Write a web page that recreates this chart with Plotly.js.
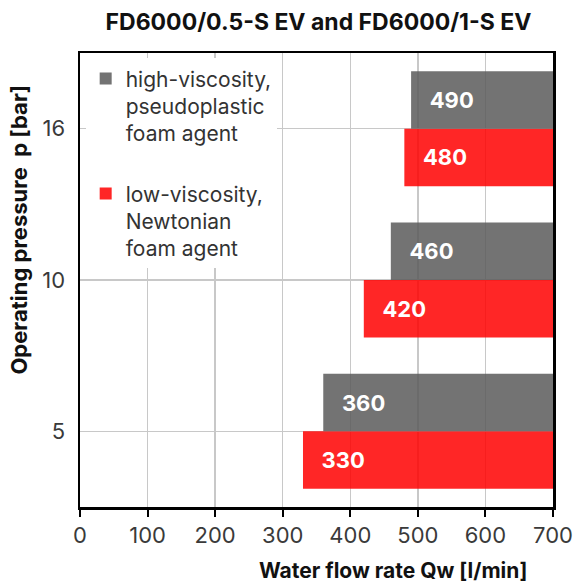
<!DOCTYPE html>
<html>
<head>
<meta charset="utf-8">
<script src="https://cdn.plot.ly/plotly-3.0.1.min.js"></script>
<style>html,body{margin:0;padding:0;background:#fff;}#chart{width:577px;height:585px;}</style>
</head>
<body>
<div id="chart"></div>
<script>
// Data
const pressures = ['5', '10', '16'];
const highViscosity = [360, 460, 490];
const lowViscosity = [330, 420, 480];
const xTicks = [0, 100, 200, 300, 400, 500, 600, 700];
const X_MAX = 700;
const seriesNames = ['high-viscosity,<br>pseudoplastic<br>foam agent', 'low-viscosity,<br>Newtonian<br>foam agent'];

const FONT = 'Inter, "Open Sans", sans-serif';
const pad = '\u00a0\u00a0\u00a0';

function barTrace(vals, name, color, group, rank) {
  return {
    type: 'bar',
    orientation: 'h',
    y: pressures,
    base: vals,
    x: vals.map(v => X_MAX - v),
    text: vals.map(String),
    texttemplate: pad + '%{text}',
    textposition: 'inside',
    insidetextanchor: 'start',
    textfont: {family: FONT, size: 22, color: '#ffffff', weight: 'bold'},
    name: name,
    legendgroup: group,
    legendrank: rank,
    marker: {color: color, line: {width: 0}},
    hoverinfo: 'skip'
  };
}

const data = [
  barTrace(lowViscosity, seriesNames[1], 'rgba(255,0,0,0.85)', 'low', 2),
  barTrace(highViscosity, seriesNames[0], 'rgba(90,90,90,0.85)', 'high', 1)
];

const layout = {
  width: 577, height: 585,
  margin: {l: 80, r: 24, t: 53, b: 78},
  paper_bgcolor: '#ffffff', plot_bgcolor: '#ffffff',
  font: {family: FONT, color: '#333333'},
  title: {text: '<b>FD6000/0.5-S EV and FD6000/1-S EV</b>', font: {family: FONT, size: 23, color: '#111111'},
          x: 0.552, xanchor: 'center', y: 0.962, yanchor: 'middle'},
  barmode: 'group', bargap: 0.24, bargroupgap: 0,
  showlegend: true,
  legend: {x: 0.012, y: 0.988, xanchor: 'left', yanchor: 'top', bgcolor: '#ffffff',
           traceorder: 'grouped', valign: 'top', tracegroupgap: 30,
           font: {family: FONT, size: 21, color: '#333333'}, itemclick: false},
  xaxis: {range: [0, X_MAX], tickvals: xTicks, ticktext: xTicks.map(String),
          showgrid: true, gridcolor: '#c8c8c8', gridwidth: 1.5,
          showline: true, linecolor: '#000000', linewidth: 2.5, mirror: true,
          ticks: 'outside', ticklen: 7, tickwidth: 2, tickcolor: '#000000',
          tickfont: {family: FONT, size: 22, color: '#3a3a3a'}, zeroline: false, fixedrange: true},
  yaxis: {type: 'category', categoryorder: 'array', categoryarray: pressures,
          showgrid: true, gridcolor: '#c8c8c8', gridwidth: 1.5,
          showline: true, linecolor: '#000000', linewidth: 2.5, mirror: true,
          ticks: '', ticklabelstandoff: 8,
          tickfont: {family: FONT, size: 22, color: '#3a3a3a'},
          fixedrange: true},
  annotations: [{
    text: '<b>Water flow rate Qw [l/min]</b>', xref: 'paper', yref: 'paper',
    x: 0.662, y: -0.139, xanchor: 'center', yanchor: 'middle', showarrow: false,
    font: {family: FONT, size: 21, color: '#111111'}
  }, {
    text: '<b>Operating pressure\u00a0\u00a0p [bar]</b>', xref: 'paper', yref: 'paper',
    x: -0.128, y: 0.612, xanchor: 'center', yanchor: 'middle', showarrow: false, textangle: -90,
    font: {family: FONT, size: 22, color: '#111111'}
  }]
};

Plotly.newPlot('chart', data, layout, {displayModeBar: false, staticPlot: true});
</script>
</body>
</html>
